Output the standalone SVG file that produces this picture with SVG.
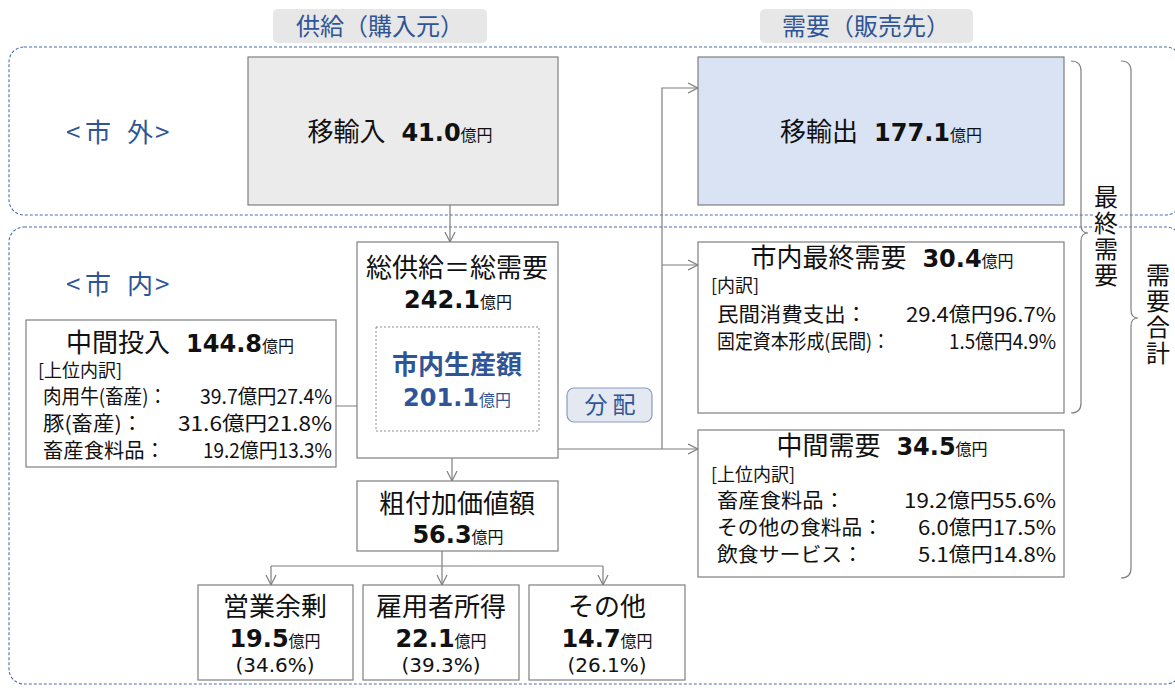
<svg xmlns="http://www.w3.org/2000/svg" width="1175" height="688" viewBox="0 0 1175 688">
<defs>
<style>
.box{fill:#fff;stroke:#7f7f7f;stroke-width:1.2}
.jp{font-family:"Noto Sans CJK JP","Noto Sans",sans-serif;fill:#111}
.num{font-family:"DejaVu Sans","Noto Sans CJK JP",sans-serif;font-weight:bold;font-size:24px}
.unit{font-family:"Noto Sans CJK JP",sans-serif;font-weight:normal;font-size:16px}
.pct{font-family:"DejaVu Sans","Noto Sans CJK JP",sans-serif;font-size:20px;fill:#111}
.blue{fill:#2f5597}
.conn{fill:none;stroke:#7f7f7f;stroke-width:1.2}
.region{fill:none;stroke:#4a6fb0;stroke-width:1.1;stroke-dasharray:3 2}
.brace{fill:none;stroke:#7f7f7f;stroke-width:1.2}
.t{font-size:26px}
.row{font-size:20px}
.rowr{font-size:20px}
.sub{font-size:18px}
</style>
<marker id="arr" markerUnits="userSpaceOnUse" markerWidth="12" markerHeight="12" refX="10" refY="5" orient="auto-start-reverse" viewBox="0 0 12 10">
<path d="M0,0 L10,5 L0,10" fill="none" stroke="#7f7f7f" stroke-width="1.2"/>
</marker>
</defs>
<rect width="1175" height="688" fill="#fff"/>

<g id="regions">
<rect class="region" x="9" y="47" width="1172" height="168" rx="15"/>
<rect class="region" x="9" y="227" width="1172" height="457" rx="15"/>
</g>

<g id="header-supply">
<rect x="273" y="9" width="214" height="34" rx="5" fill="#e7e7e7"/>
<text class="jp blue" x="380" y="35" font-size="24" text-anchor="middle">供給（購入元）</text>
</g>
<g id="header-demand">
<rect x="760" y="9" width="213" height="34" rx="5" fill="#e7e7e7"/>
<text class="jp blue" x="866" y="35" font-size="24" text-anchor="middle">需要（販売先）</text>
</g>

<g id="label-outside"><text class="jp blue" x="66 85 127 155" y="142" font-size="26">&lt;市外&gt;</text></g>
<g id="label-inside"><text class="jp blue" x="66 85 127 155" y="294" font-size="26">&lt;市内&gt;</text></g>

<g id="connectors">
<path class="conn" d="M450,205 L450,242" marker-end="url(#arr)"/>
<path class="conn" d="M336,406 L376,406" marker-end="url(#arr)"/>
<path class="conn" d="M452,433 L452,481" marker-start="url(#arr)" marker-end="url(#arr)"/>
<path class="conn" d="M558,449 L698,449" marker-end="url(#arr)"/>
<path class="conn" d="M662,449 L662,88 L698,88" marker-end="url(#arr)"/>
<path class="conn" d="M662,265 L698,265" marker-end="url(#arr)"/>
<path class="conn" d="M442,551 L442,585" marker-end="url(#arr)"/>
<path class="conn" d="M271,566 L603,566"/>
<path class="conn" d="M271,566 L271,585" marker-end="url(#arr)"/>
<path class="conn" d="M603,566 L603,585" marker-end="url(#arr)"/>
</g>

<g id="imports">
<rect x="248" y="57" width="310" height="148" fill="#ebebeb" stroke="#7f7f7f" stroke-width="1.2"/>
<text class="jp t" x="400" y="141" text-anchor="middle">移輸入<tspan class="num" dx="16">41.0</tspan><tspan class="unit">億円</tspan></text>
</g>

<g id="exports">
<rect x="698" y="57" width="366" height="148" fill="#dae3f3" stroke="#7f7f7f" stroke-width="1.2"/>
<text class="jp t" x="881" y="141" text-anchor="middle">移輸出<tspan class="num" dx="16">177.1</tspan><tspan class="unit">億円</tspan></text>
</g>

<g id="total">
<rect class="box" x="357" y="242" width="201" height="216"/>
<text class="jp t" x="457" y="277" text-anchor="middle">総供給＝総需要</text>
<text class="jp" x="458" y="308" text-anchor="middle"><tspan class="num">242.1</tspan><tspan class="unit">億円</tspan></text>
</g>

<g id="production">
<rect x="376" y="327" width="163" height="104" fill="#fff" stroke="#8c8c8c" stroke-width="1" stroke-dasharray="2 2"/>
<text class="jp blue t" x="457" y="374" font-weight="bold" text-anchor="middle">市内生産額</text>
<text class="jp blue" x="457" y="406" text-anchor="middle"><tspan class="num">201.1</tspan><tspan class="unit" font-weight="bold">億円</tspan></text>
</g>

<g id="intermediate-input">
<rect class="box" x="26" y="320" width="310" height="147"/>
<text class="jp t" x="180" y="352" text-anchor="middle">中間投入<tspan class="num" dx="16">144.8</tspan><tspan class="unit">億円</tspan></text>
<text class="jp sub" x="38" y="377">[上位内訳]</text>
<text class="jp row" x="43" y="404" textLength="124" lengthAdjust="spacingAndGlyphs">肉用牛(畜産)：</text>
<text class="jp row" x="332" y="404" text-anchor="end" textLength="132" lengthAdjust="spacingAndGlyphs">39.7億円27.4%</text>
<text class="jp row" x="43" y="431" textLength="100" lengthAdjust="spacingAndGlyphs">豚(畜産)：</text>
<text class="jp row" x="332" y="431" text-anchor="end" textLength="154" lengthAdjust="spacingAndGlyphs">31.6億円21.8%</text>
<text class="jp row" x="43" y="458" textLength="122" lengthAdjust="spacingAndGlyphs">畜産食料品：</text>
<text class="jp row" x="332" y="458" text-anchor="end" textLength="129" lengthAdjust="spacingAndGlyphs">19.2億円13.3%</text>
</g>

<g id="distribution">
<rect x="567" y="388" width="85" height="34" rx="7" fill="#e4e8f0" stroke="#8a9ac0" stroke-width="1.2"/>
<text class="jp blue" x="610" y="413" font-size="23" text-anchor="middle">分 配</text>
</g>

<g id="final-demand">
<rect class="box" x="698" y="242" width="366" height="171"/>
<text class="jp t" x="882" y="267" text-anchor="middle">市内最終需要<tspan class="num" dx="16">30.4</tspan><tspan class="unit">億円</tspan></text>
<text class="jp sub" x="711" y="292">[内訳]</text>
<text class="jp rowr" x="717" y="322" textLength="150" lengthAdjust="spacingAndGlyphs">民間消費支出：</text>
<text class="jp rowr" x="1056" y="322" text-anchor="end" textLength="150" lengthAdjust="spacingAndGlyphs">29.4億円96.7%</text>
<text class="jp rowr" x="717" y="349" textLength="173" lengthAdjust="spacingAndGlyphs">固定資本形成(民間)：</text>
<text class="jp rowr" x="1056" y="349" text-anchor="end" textLength="107" lengthAdjust="spacingAndGlyphs">1.5億円4.9%</text>
</g>

<g id="intermediate-demand">
<rect class="box" x="698" y="430" width="366" height="147"/>
<text class="jp t" x="882" y="455" text-anchor="middle">中間需要<tspan class="num" dx="16">34.5</tspan><tspan class="unit">億円</tspan></text>
<text class="jp sub" x="711" y="481">[上位内訳]</text>
<text class="jp rowr" x="717" y="508" textLength="128" lengthAdjust="spacingAndGlyphs">畜産食料品：</text>
<text class="jp rowr" x="1056" y="508" text-anchor="end" textLength="152" lengthAdjust="spacingAndGlyphs">19.2億円55.6%</text>
<text class="jp rowr" x="717" y="535" textLength="166" lengthAdjust="spacingAndGlyphs">その他の食料品：</text>
<text class="jp rowr" x="1056" y="535" text-anchor="end" textLength="138" lengthAdjust="spacingAndGlyphs">6.0億円17.5%</text>
<text class="jp rowr" x="717" y="562" textLength="146" lengthAdjust="spacingAndGlyphs">飲食サービス：</text>
<text class="jp rowr" x="1056" y="562" text-anchor="end" textLength="138" lengthAdjust="spacingAndGlyphs">5.1億円14.8%</text>
</g>

<g id="value-added">
<rect class="box" x="357" y="481" width="201" height="70"/>
<text class="jp t" x="457" y="513" text-anchor="middle">粗付加価値額</text>
<text class="jp" x="458" y="543" text-anchor="middle"><tspan class="num">56.3</tspan><tspan class="unit">億円</tspan></text>
</g>

<g id="operating-surplus">
<rect class="box" x="198" y="585" width="155" height="95"/>
<text class="jp t" x="275" y="616" text-anchor="middle">営業余剰</text>
<text class="jp" x="275" y="647" text-anchor="middle"><tspan class="num">19.5</tspan><tspan class="unit">億円</tspan></text>
<text class="pct" x="275" y="672" text-anchor="middle">(34.6%)</text>
</g>
<g id="employee-income">
<rect class="box" x="363" y="585" width="156" height="95"/>
<text class="jp t" x="441" y="616" text-anchor="middle">雇用者所得</text>
<text class="jp" x="441" y="647" text-anchor="middle"><tspan class="num">22.1</tspan><tspan class="unit">億円</tspan></text>
<text class="pct" x="441" y="672" text-anchor="middle">(39.3%)</text>
</g>
<g id="other">
<rect class="box" x="529" y="585" width="156" height="95"/>
<text class="jp t" x="607" y="616" text-anchor="middle">その他</text>
<text class="jp" x="607" y="647" text-anchor="middle"><tspan class="num">14.7</tspan><tspan class="unit">億円</tspan></text>
<text class="pct" x="607" y="672" text-anchor="middle">(26.1%)</text>
</g>

<g id="brace-final">
<path class="brace" d="M1071,61 Q1081,61 1081,71 L1081,225 Q1081,233 1088,233 Q1081,233 1081,241 L1081,403 Q1081,413 1071,413"/>
<rect x="1093" y="184" width="26" height="106" fill="#fff"/>
<text class="jp" x="1106" y="185" font-size="24" letter-spacing="2" style="writing-mode:vertical-rl">最終需要</text>
</g>
<g id="brace-total">
<path class="brace" d="M1121,61 Q1131,61 1131,71 L1131,310 Q1131,318 1138,318 Q1131,318 1131,326 L1131,568 Q1131,578 1121,578"/>
<text class="jp" x="1158" y="263" font-size="24" letter-spacing="2" style="writing-mode:vertical-rl">需要合計</text>
</g>
</svg>
